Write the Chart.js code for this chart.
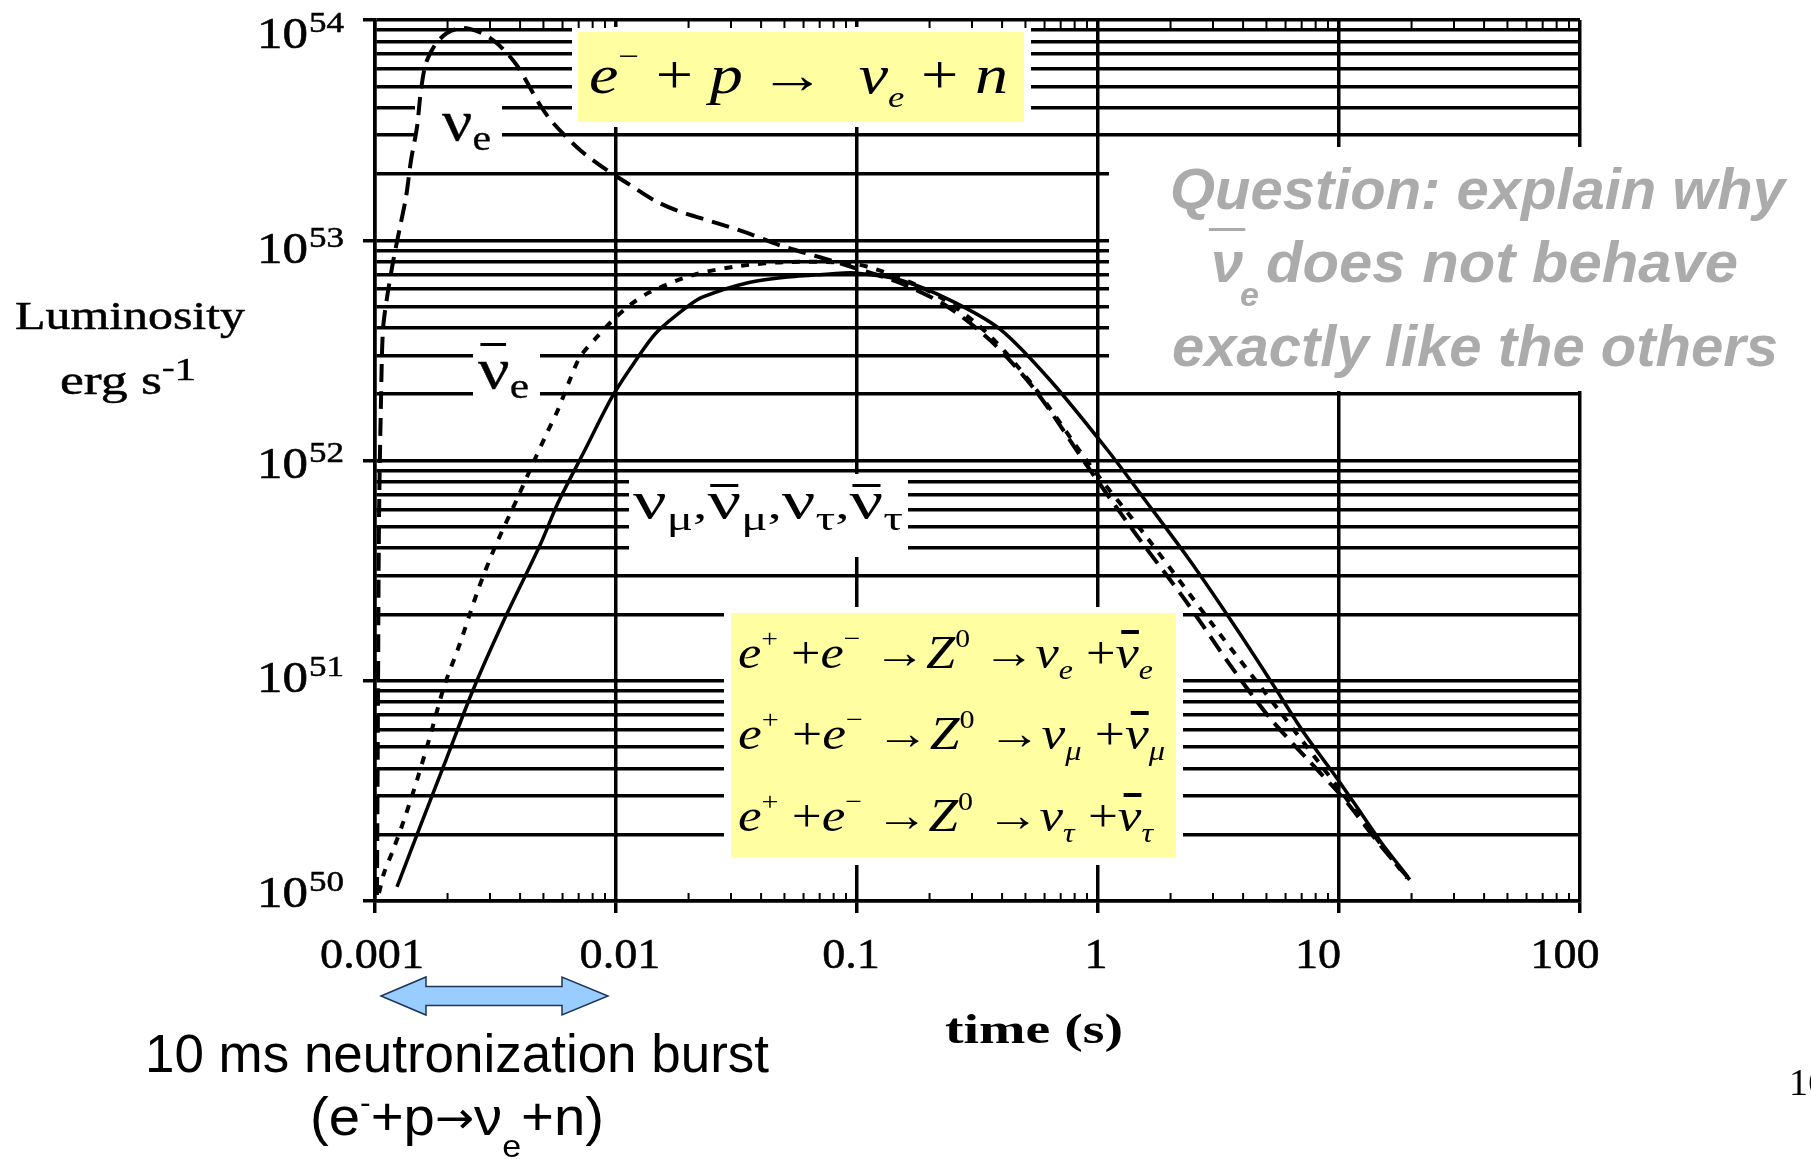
<!DOCTYPE html>
<html><head><meta charset="utf-8">
<style>html,body{margin:0;padding:0;background:#fff;overflow:hidden}canvas{display:block}</style>
<script src="https://cdn.jsdelivr.net/npm/chart.js@4.4.1/dist/chart.umd.min.js"></script>
</head><body>
<canvas id="c" width="1811" height="1159"></canvas>
<script>
// ---------------- data (time in s, luminosity in erg/s) ----------------
const tNuE = [0.001019, 0.001029, 0.001039, 0.001059, 0.001079, 0.001121, 0.001188, 0.00127, 0.001345, 0.001411, 0.001494, 0.001552, 0.001628, 0.001774, 0.00199, 0.0023, 0.00265, 0.0030, 0.00343, 0.00392, 0.00484, 0.00548, 0.00709, 0.00918, 0.01111, 0.01438, 0.01774, 0.026, 0.035, 0.0475, 0.0696, 0.0981, 0.1508, 0.2317, 0.3564, 0.548, 0.926, 1.494, 2.296, 3.53, 5.17, 7.58, 10.59, 14.79, 19.7];
const lNuE = [1.065e50, 8.18e50, 5.37e51, 1.88e52, 3.91e52, 5.47e52, 7.97e52, 1.15e53, 1.57e53, 2.31e53, 3.27e53, 4.81e53, 6.38e53, 7.70e53, 8.73e53, 9.20e53, 8.91e53, 8.29e53, 7.31e53, 6.12e53, 4.11e53, 3.41e53, 2.57e53, 2.08e53, 1.82e53, 1.52e53, 1.37e53, 1.20e53, 1.08e53, 9.51e52, 8.39e52, 7.48e52, 6.40e52, 5.08e52, 3.52e52, 2.09e52, 9.06e51, 4.36e51, 2.33e51, 1.18e51, 6.77e50, 4.28e50, 2.87e50, 1.80e50, 1.245e50];

const tNuEbar = [0.001039, 0.00109, 0.001188, 0.001319, 0.001494, 0.001707, 0.001933, 0.002253, 0.002676, 0.003147, 0.00392, 0.00453, 0.00517, 0.00574, 0.00638, 0.00709, 0.00842, 0.00971, 0.01143, 0.01384, 0.02087, 0.0327, 0.0527, 0.0981, 0.1508, 0.2317, 0.3564, 0.548, 0.926, 1.567, 3.00, 5.74, 10.09, 14.79, 19.15];
const lNuEbar = [1.087e50, 1.34e50, 1.70e50, 2.33e50, 3.54e50, 5.79e50, 9.37e50, 1.48e51, 2.58e51, 4.05e51, 6.83e51, 9.74e51, 1.333e52, 1.696e52, 2.27e52, 2.95e52, 3.68e52, 4.34e52, 5.08e52, 5.82e52, 6.95e52, 7.64e52, 7.97e52, 7.80e52, 6.74e52, 5.35e52, 3.68e52, 2.13e52, 9.54e51, 4.59e51, 1.79e51, 7.14e50, 3.19e50, 1.83e50, 1.27e50];

const tNuX = [0.001234, 0.001537, 0.001971, 0.002551, 0.00343, 0.00484, 0.00574, 0.00743, 0.00962, 0.01188, 0.01466, 0.01971, 0.02296, 0.03496, 0.05172, 0.0773, 0.0981, 0.1508, 0.2432, 0.392, 0.632, 1.111, 1.567, 2.43, 3.74, 5.27, 7.16, 9.72, 11.54, 14.94, 19.33];
const lNuX = [1.16e50, 2.17e50, 4.37e50, 9.08e50, 1.887e51, 4.13e51, 6.41e51, 1.116e52, 1.94e52, 2.77e52, 3.79e52, 4.98e52, 5.53e52, 6.40e52, 6.81e52, 7.03e52, 7.10e52, 6.60e52, 5.35e52, 3.95e52, 2.32e52, 1.093e52, 6.62e51, 3.46e51, 1.736e51, 9.77e50, 5.79e50, 3.66e50, 2.79e50, 1.85e50, 1.285e50];

const xTickValues = [0.001, 0.01, 0.1, 1, 10, 100];
const xTickLabels = ['0.001', '0.01', '0.1', '1', '10', '100'];
const yTickValues = [1e50, 1e51, 1e52, 1e53, 1e54];
const yTickExponents = ['50', '51', '52', '53', '54'];

// ---------------- style ----------------
const SERIF = '"Liberation Serif", "Times New Roman", serif';
const SANS = '"Liberation Sans", Arial, sans-serif';
const YELLOW = '#ffffa2';
const GREY = '#ababab';
const xLabelNudge = [-3, 4, -6, -2, -21, -15];
const yLabelNudge = [-9, -3.5, 2, 7.5, 13];

function pts(t, l) { return t.map((v, i) => ({ x: v, y: l[i] })); }

function rich(ctx, segs, x, y, width, opt) {
  opt = opt || {};
  ctx.save();
  ctx.fillStyle = opt.color || '#000';
  ctx.strokeStyle = opt.color || '#000';
  ctx.textBaseline = 'alphabetic';
  ctx.textAlign = 'left';
  let total = 0;
  const ws = segs.map(s => { ctx.font = s.f; const w = ctx.measureText(s.t).width; total += w; return w; });
  const sx = width ? width / total : 1;
  ctx.translate(x, y);
  ctx.scale(sx, 1);
  let cx = 0;
  segs.forEach((s, i) => {
    ctx.font = s.f;
    ctx.fillText(s.t, cx, s.dy || 0);
    if (opt.stroke) { ctx.lineWidth = opt.stroke; ctx.strokeText(s.t, cx, s.dy || 0); }
    if (s.bar) { ctx.fillRect(cx + s.bar[0], s.bar[1], ws[i] - s.bar[0] - (s.bar[3] || 0), s.bar[2]); }
    cx += ws[i];
  });
  ctx.restore();
}

function box(ctx, x1, y1, x2, y2, color) {
  ctx.fillStyle = color;
  ctx.fillRect(x1, y1, x2 - x1, y2 - y1);
}

const decor = {
  id: 'decor',
  beforeDatasetsDraw(chart) {
    const ctx = chart.ctx;
    ctx.save();
    // white label backgrounds
    box(ctx, 415, 95, 502, 150, '#fff');
    box(ctx, 473, 345, 540, 402, '#fff');
    box(ctx, 629, 474, 908, 557, '#fff');
    // yellow formula boxes
    box(ctx, 572, 27, 1031, 127, '#fff');
    box(ctx, 578, 32, 1024, 122, YELLOW);
    box(ctx, 724, 607, 1183, 865, '#fff');
    box(ctx, 731, 613, 1176, 857, YELLOW);
    // question panel
    box(ctx, 1109, 147, 1811, 391, '#fff');
    ctx.restore();
  },
  afterDatasetsDraw(chart) {
    const ctx = chart.ctx;
    const xs = chart.scales.x, ys = chart.scales.y;
    const top = chart.chartArea.top, bottom = chart.chartArea.bottom;
    ctx.save();
    // minor x ticks (inward)
    ctx.strokeStyle = '#000'; ctx.lineWidth = 2;
    for (let d = -3; d < 2; d++) {
      for (let k = 2; k <= 9; k++) {
        const px = xs.getPixelForValue(k * Math.pow(10, d));
        ctx.beginPath(); ctx.moveTo(px, bottom); ctx.lineTo(px, bottom - 8); ctx.stroke();
        ctx.beginPath(); ctx.moveTo(px, top); ctx.lineTo(px, top + 8); ctx.stroke();
      }
    }
    // y tick labels 10^n
    yTickValues.forEach((v, i) => {
      const py = ys.getPixelForValue(v) + yLabelNudge[i];
      rich(ctx, [{ t: '10', f: `44px ${SERIF}` }], 257, py + 15, 51, { stroke: 0.6 });
      rich(ctx, [{ t: yTickExponents[i], f: `29px ${SERIF}` }], 309, py - 1, 35, { stroke: 0.5 });
    });
    // x tick labels
    xTickValues.forEach((v, i) => {
      ctx.font = `42px ${SERIF}`;
      const w = ctx.measureText(xTickLabels[i]).width * 1.1;
      const px = xs.getPixelForValue(v) + xLabelNudge[i];
      rich(ctx, [{ t: xTickLabels[i], f: `42px ${SERIF}` }], px - w / 2, 968, w, { stroke: 0.5 });
    });
    // axis titles
    rich(ctx, [{ t: 'Luminosity', f: `40px ${SERIF}` }], 15, 329, 230, { stroke: 0.5 });
    rich(ctx, [{ t: 'erg s', f: `40px ${SERIF}` }, { t: '-', f: `28px ${SERIF}`, dy: -18 }, { t: '1', f: `32px ${SERIF}`, dy: -14 }], 60, 394, 136, { stroke: 0.5 });
    rich(ctx, [{ t: 'time (s)', f: `bold 43px ${SERIF}` }], 945, 1043, 178);

    // curve labels
    rich(ctx, [{ t: 'ν', f: `58px ${SERIF}` }, { t: 'e', f: `36px ${SERIF}`, dy: 10 }], 442, 140, 49, { stroke: 0.3 });
    rich(ctx, [{ t: 'ν', f: `58px ${SERIF}`, bar: [2, -45, 3, 3] }, { t: 'e', f: `36px ${SERIF}`, dy: 10 }], 478, 388, 51, { stroke: 0.3 });
    const nu = `52px ${SERIF}`, sb = `34px ${SERIF}`, cm = `40px ${SERIF}`;
    rich(ctx, [
      { t: 'ν', f: nu }, { t: 'μ', f: sb, dy: 12 }, { t: ',', f: cm },
      { t: 'ν', f: nu, bar: [2, -34, 3, 2] }, { t: 'μ', f: sb, dy: 12 }, { t: ',', f: cm },
      { t: 'ν', f: nu }, { t: 'τ', f: sb, dy: 12 }, { t: ',', f: cm },
      { t: 'ν', f: nu, bar: [2, -34, 3, 2] }, { t: 'τ', f: sb, dy: 12 }
    ], 633, 518, 270);

    // formula box 1
    const I52 = `italic 54px ${SERIF}`, N52 = `54px ${SERIF}`;
    rich(ctx, [
      { t: 'e', f: I52 }, { t: '−', f: `30px ${SERIF}`, dy: -27 }, { t: ' + ', f: N52 },
      { t: 'p', f: I52 }, { t: ' → ', f: N52 }, { t: ' ', f: N52 }, { t: 'ν', f: I52 },
      { t: 'e', f: `italic 30px ${SERIF}`, dy: 14 }, { t: ' + ', f: N52 }, { t: 'n', f: I52 }
    ], 589, 93, 419);

    // formula box 2
    const I = `italic 46px ${SERIF}`, N = `46px ${SERIF}`, S = `26px ${SERIF}`, IS = `italic 28px ${SERIF}`;
    const zline = (sub) => [
      { t: 'e', f: I }, { t: '+', f: S, dy: -21 }, { t: ' +', f: N },
      { t: 'e', f: I }, { t: '−', f: S, dy: -21 }, { t: ' →', f: N },
      { t: 'Z', f: I }, { t: '0', f: S, dy: -21 }, { t: ' →', f: N },
      { t: 'ν', f: I }, { t: sub, f: IS, dy: 11 }, { t: ' +', f: N },
      { t: 'ν', f: I, bar: [5, -38, 4, 0] }, { t: sub, f: IS, dy: 11 }
    ];
    rich(ctx, zline('e'), 738, 668, 415);
    rich(ctx, zline('μ'), 738, 749, 427);
    rich(ctx, zline('τ'), 738, 831, 415);

    // question text
    const Q = `italic bold 58px ${SANS}`;
    rich(ctx, [{ t: 'Question: explain why', f: Q }], 1170, 209, 615, { color: GREY });
    rich(ctx, [{ t: 'ν', f: Q, bar: [-2, -54, 3, -2] }], 1211, 282, null, { color: GREY });
    rich(ctx, [{ t: 'e', f: `italic bold 34px ${SANS}` }], 1240, 306, null, { color: GREY });
    rich(ctx, [{ t: 'does not behave', f: Q }], 1266, 282, 472, { color: GREY });
    rich(ctx, [{ t: 'exactly like the others', f: Q }], 1172, 366, 606, { color: GREY });

    // double arrow (0.001 -> 0.01)
    const aL = xs.getPixelForValue(0.001) + 6, aR = xs.getPixelForValue(0.01) - 8, cy = 996;
    ctx.beginPath();
    ctx.moveTo(aL, cy); ctx.lineTo(aL + 45, cy - 19); ctx.lineTo(aL + 45, cy - 9.5);
    ctx.lineTo(aR - 46, cy - 9.5); ctx.lineTo(aR - 46, cy - 19); ctx.lineTo(aR, cy);
    ctx.lineTo(aR - 46, cy + 19); ctx.lineTo(aR - 46, cy + 9.5); ctx.lineTo(aL + 45, cy + 9.5);
    ctx.lineTo(aL + 45, cy + 19); ctx.closePath();
    ctx.fillStyle = '#99ccff'; ctx.fill();
    ctx.strokeStyle = '#1d3557'; ctx.lineWidth = 1.5; ctx.stroke();

    // burst annotation
    rich(ctx, [{ t: '10 ms neutronization burst', f: `53px ${SANS}` }], 145, 1072, 624);
    rich(ctx, [
      { t: '(e', f: `53px ${SANS}` }, { t: '-', f: `30px ${SANS}`, dy: -22 },
      { t: '+p', f: `53px ${SANS}` }, { t: '→', f: `44px "DejaVu Sans", ${SANS}`, dy: -2 }, { t: 'ν', f: `53px ${SANS}` },
      { t: 'e', f: `32px ${SANS}`, dy: 22 },
      { t: '+n)', f: `53px ${SANS}` }
    ], 310, 1135, 294);

    // page number (cut at edge)
    rich(ctx, [{ t: '16', f: `38px ${SERIF}` }], 1789, 1095);
    ctx.restore();
  }
};

const ctx = document.getElementById('c').getContext('2d');
new Chart(ctx, {
  type: 'line',
  data: {
    datasets: [
      { label: 'νe', data: pts(tNuE, lNuE), borderColor: '#000', borderWidth: 4, borderDash: [18, 9], pointRadius: 0, tension: 0.3, fill: false },
      { label: 'anti-νe', data: pts(tNuEbar, lNuEbar), borderColor: '#000', borderWidth: 4, borderDash: [8, 9], pointRadius: 0, tension: 0.3, fill: false },
      { label: 'νμ,τ', data: pts(tNuX, lNuX), borderColor: '#000', borderWidth: 3.5, pointRadius: 0, tension: 0.3, fill: false }
    ]
  },
  options: {
    responsive: false,
    animation: false,
    devicePixelRatio: 1,
    layout: { padding: { left: 363, right: 231, top: 20, bottom: 246 } },
    plugins: { legend: { display: false }, tooltip: { enabled: false } },
    scales: {
      x: {
        type: 'logarithmic', min: 0.001, max: 100,
        afterBuildTicks: s => { s.ticks = xTickValues.map(v => ({ value: v, major: true })); },
        ticks: { display: false },
        grid: { color: '#000', lineWidth: 3.5, tickLength: 12, tickWidth: 3.5, tickColor: '#000' },
        border: { color: '#000', width: 3.5 }
      },
      y: {
        type: 'logarithmic', min: 1e50, max: 1e54,
        afterBuildTicks: s => {
          const arr = [];
          for (let e = 0; e < yTickValues.length - 1; e++) {
            for (let k = 1; k <= 9; k++) arr.push({ value: k * yTickValues[e], major: k === 1 });
          }
          arr.push({ value: yTickValues[yTickValues.length - 1], major: true });
          s.ticks = arr;
        },
        ticks: { display: false },
        grid: {
          color: '#000', lineWidth: 3.5, tickLength: 12, tickWidth: 3.5,
          tickColor: c => (c.tick && c.tick.major) ? '#000' : 'rgba(0,0,0,0)'
        },
        border: { color: '#000', width: 3.5 }
      }
    }
  },
  plugins: [decor]
});
</script>
</body></html>
